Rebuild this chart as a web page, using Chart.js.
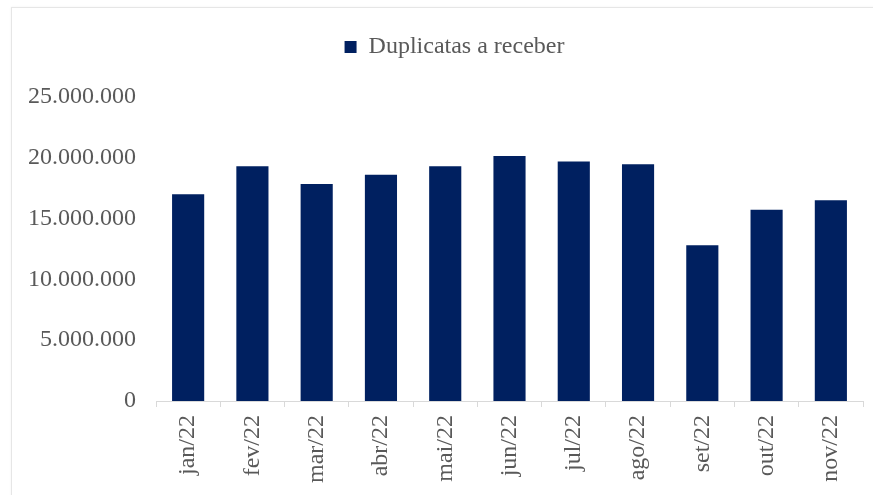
<!DOCTYPE html>
<html>
<head>
<meta charset="utf-8">
<script src="https://cdn.jsdelivr.net/npm/chart.js@4.4.0/dist/chart.umd.min.js"></script>
<style>
  html, body { margin: 0; padding: 0; background: #fff; }
  #wrap { position: relative; width: 873px; height: 495px; overflow: hidden; }
  #frame { position: absolute; left: 11px; top: 7px; width: 880px; height: 500px;
           border: 1px solid #e6e6e6; box-shadow: 0 0 2px rgba(0,0,0,0.06); }
  #chart { position: absolute; left: 0; top: 0; }
</style>
</head>
<body>
<div id="wrap">
  <div id="frame"></div>
  <canvas id="chart" width="873" height="495"></canvas>
</div>
<script>
// Data
const months = ['jan/22', 'fev/22', 'mar/22', 'abr/22', 'mai/22', 'jun/22',
                'jul/22', 'ago/22', 'set/22', 'out/22', 'nov/22'];
const duplicatas = [17000000, 19300000, 17850000, 18600000, 19300000, 20150000,
                    19700000, 19470000, 12800000, 15730000, 16500000];
const yTicks = [0, 5000000, 10000000, 15000000, 20000000, 25000000];

const serif = "'Liberation Serif', 'Times New Roman', serif";
const textColor = '#595959';

// 25000000 -> "25.000.000"
function formatBR(v) {
    return String(Math.round(v)).replace(/\B(?=(\d{3})+(?!\d))/g, '.');
}

const ctx = document.getElementById('chart').getContext('2d');

const chart = new Chart(ctx, {
    type: 'bar',
    data: {
        labels: months,
        datasets: [{
            label: 'Duplicatas a receber',
            data: duplicatas,
            backgroundColor: '#002060',
            barPercentage: 0.5,
            categoryPercentage: 1.0
        }]
    },
    plugins: [{
        id: 'legendPlace',
        beforeInit(chart) {
            const fit = chart.legend.fit;
            chart.legend.fit = function() {
                fit.bind(chart.legend)();
                this.height = 70;
            };
        },
        afterLayout(chart) {
            // legend sits a bit right of the canvas centre
            chart.legend.left += 13;
            chart.legend.right += 13;
        }
    }],
    options: {
        responsive: false,
        animation: false,
        layout: { padding: { top: 27, left: 20, right: 10, bottom: 8 } },
        plugins: {
            legend: {
                position: 'top',
                labels: {
                    boxWidth: 12,
                    boxHeight: 12,
                    padding: 8,
                    color: textColor,
                    font: { family: serif, size: 24 }
                }
            },
            tooltip: { enabled: false }
        },
        scales: {
            x: {
                grid: {
                    display: true,
                    drawOnChartArea: false,
                    drawTicks: true,
                    tickLength: 6,
                    color: '#d9d9d9',
                    offset: true
                },
                border: { display: true, color: '#d9d9d9' },
                ticks: {
                    minRotation: 90,
                    maxRotation: 90,
                    padding: 8,
                    color: textColor,
                    font: { family: serif, size: 24 }
                },
                afterFit(scale) { scale.height = 86; }
            },
            y: {
                min: 0,
                max: 25000000,
                afterBuildTicks(scale) {
                    scale.ticks = yTicks.map(v => ({ value: v }));
                },
                grid: { display: false, drawTicks: false },
                border: { display: false },
                ticks: {
                    padding: 20,
                    color: textColor,
                    font: { family: serif, size: 24 },
                    callback: v => formatBR(v)
                },
                afterFit(scale) { scale.width = 136; }
            }
        }
    }
});
</script>
</body>
</html>
